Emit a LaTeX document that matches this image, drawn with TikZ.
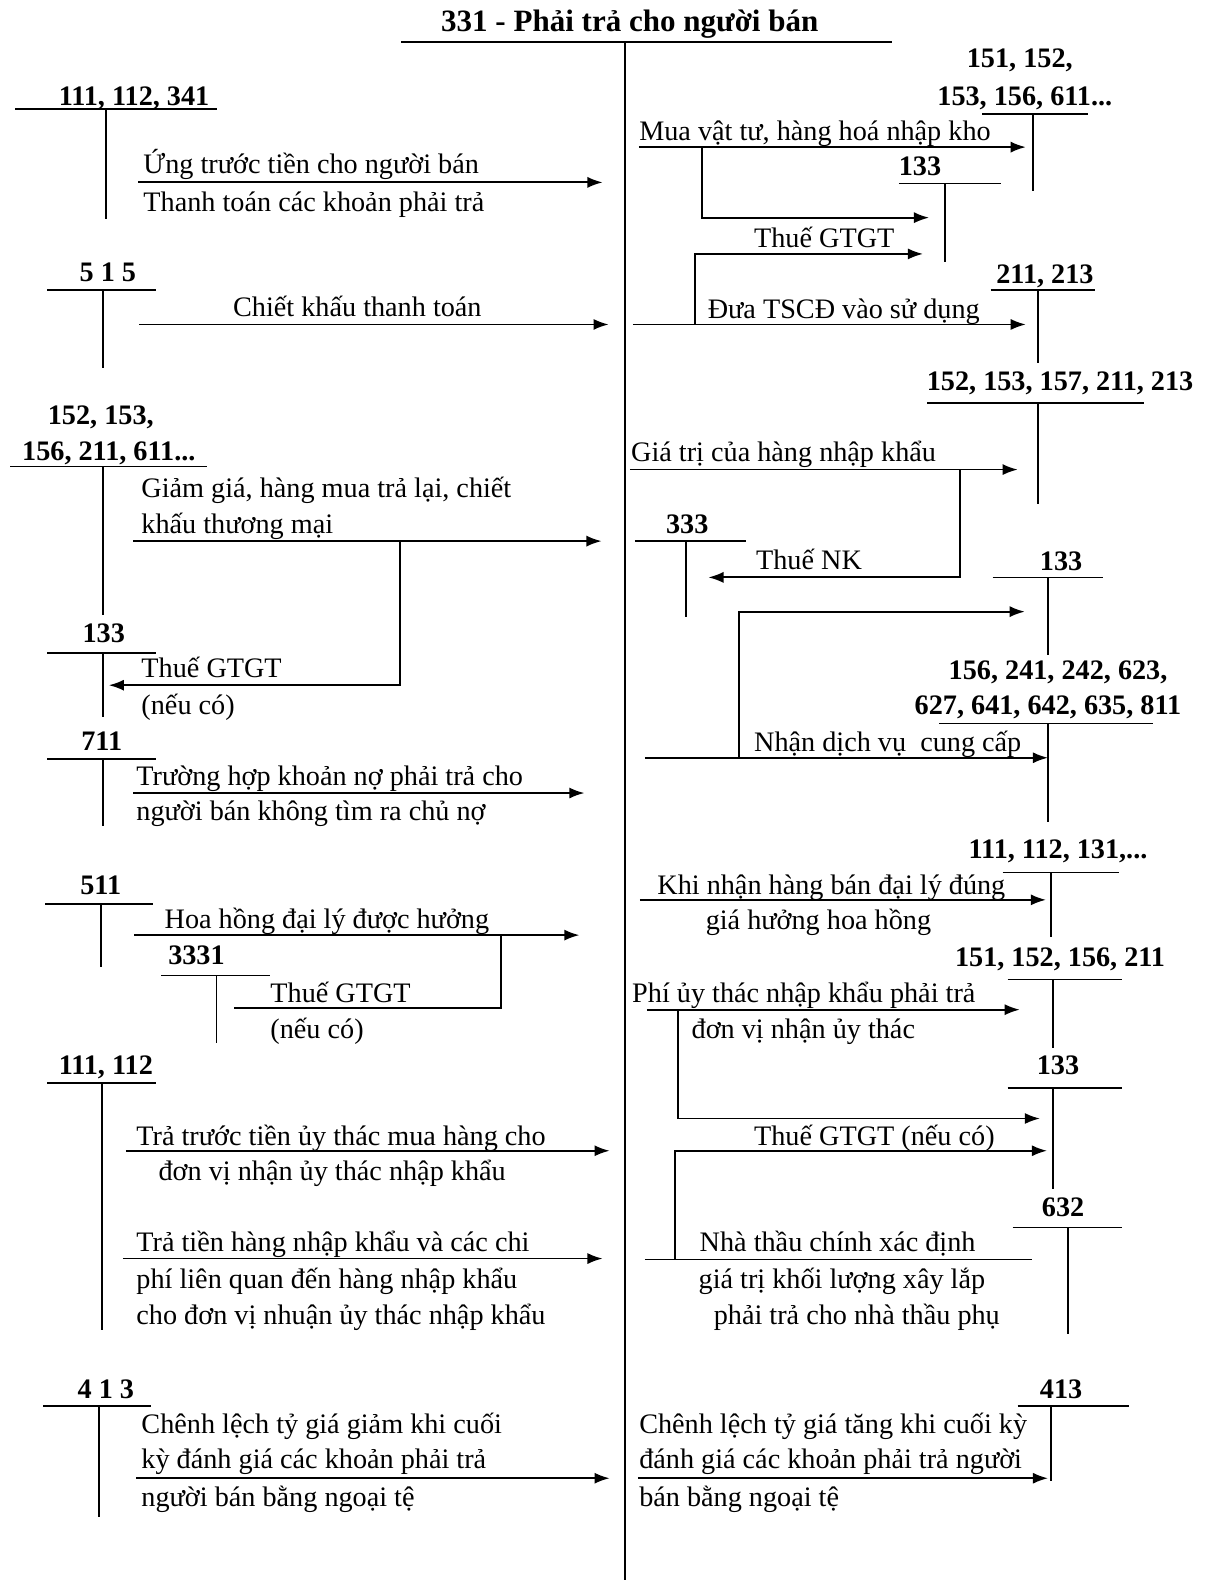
\documentclass[tikz,border=0pt]{standalone}
\usepackage{fontspec}
\setmainfont{Liberation Serif}
\usetikzlibrary{arrows.meta}

\begin{document}
\begin{tikzpicture}[x=0.5pt,y=-0.5pt,
  acct/.style={font=\fontsize{14}{16}\selectfont\bfseries, inner sep=0pt, text height=9.4pt, text depth=0pt},
  note/.style={font=\fontsize{14}{16}\selectfont, inner sep=0pt, text height=6.4pt, text depth=0pt, anchor=west, yshift=-1.5pt},
  flow/.style={-{Latex[length=7.5pt,width=5.5pt]}, line width=0.9pt},
  bare/.style={line width=0.9pt},
  tline/.style={line width=0.8pt}]
\useasboundingbox (0,0) rectangle (1204,1568);

% account 331
\node[acct, font=\fontsize{15.4}{18}\selectfont\bfseries] (title) at (625,22) {331 - Phải trả cho người bán};
\draw[line width=1.1pt] (398,42) -- (885,42);
\draw[line width=1.1pt] (620,42) -- (620,1568);

% left side accounts
\node[acct] (l1) at (133,95) {111, 112, 341};
\draw[tline] (15,108) -- (215,108); \draw[tline] (105,108) -- (105,217);
\node[acct] (l2) at (107,270) {5 1 5};
\draw[tline] (47,288) -- (155,288); \draw[tline] (102,288) -- (102,365);
\node[acct] (l3a) at (100,412) {152, 153,};
\node[acct] (l3b) at (108,448) {156, 211, 611...};
\draw[tline] (10,463) -- (205,463); \draw[tline] (102,463) -- (102,610);
\node[acct] (l4) at (103,628) {133};
\draw[tline] (47,648) -- (155,648); \draw[tline] (102,648) -- (102,712);
\node[acct] (l5) at (101,735) {711};
\draw[tline] (47,753) -- (155,753); \draw[tline] (102,753) -- (102,820);
\node[acct] (l6) at (100,878) {511};
\draw[tline] (45,897) -- (152,897); \draw[tline] (100,897) -- (100,960);
\node[acct] (l7) at (195,948) {3331};
\draw[tline] (160,968) -- (268,968); \draw[tline] (215,968) -- (215,1035);
\node[acct] (l8) at (105,1057) {111, 112};
\draw[tline] (47,1075) -- (155,1075); \draw[tline] (101,1075) -- (101,1320);
\node[acct] (l9) at (105,1378) {4 1 3};
\draw[tline] (43,1395) -- (150,1395); \draw[tline] (98,1395) -- (98,1505);

% right side accounts
\node[acct] (r1a) at (1012,58) {151, 152,};
\node[acct] (r1b) at (1017,95) {153, 156, 611...};
\draw[tline] (975,113) -- (1080,113); \draw[tline] (1025,113) -- (1025,190);
\node[acct] (r2) at (913,165) {133};
\draw[tline] (892,182) -- (993,182); \draw[tline] (938,182) -- (938,260);
\node[acct] (r3) at (1037,272) {211, 213};
\draw[tline] (983,288) -- (1087,288); \draw[tline] (1030,288) -- (1030,360);
\node[acct] (r4) at (1052,378) {152, 153, 157, 211, 213};
\draw[tline] (920,400) -- (1135,400); \draw[tline] (1030,400) -- (1030,500);
\node[acct] (r5) at (682,520) {333};
\draw[tline] (630,537) -- (740,537); \draw[tline] (681,537) -- (681,612);
\node[acct] (r6) at (1053,557) {133};
\draw[tline] (985,573) -- (1095,573); \draw[tline] (1040,573) -- (1040,650);
\node[acct] (r7a) at (1050,665) {156, 241, 242, 623,};
\node[acct] (r7b) at (1040,700) {627, 641, 642, 635, 811};
\draw[tline] (932,718) -- (1144,718); \draw[tline] (1040,718) -- (1040,816);
\node[acct] (r8) at (1050,843) {111, 112, 131,...};
\draw[tline] (995,866) -- (1110,866); \draw[tline] (1043,866) -- (1043,930);
\node[acct] (r9) at (1052,950) {151, 152, 156, 211};
\draw[tline] (1000,972) -- (1113,972); \draw[tline] (1045,972) -- (1045,1040);
\node[acct] (r10) at (1050,1057) {133};
\draw[tline] (1000,1080) -- (1113,1080); \draw[tline] (1045,1080) -- (1045,1180);
\node[acct] (r11) at (1055,1198) {632};
\draw[tline] (1005,1218) -- (1113,1218); \draw[tline] (1060,1218) -- (1060,1324);
\node[acct] (r12) at (1053,1378) {413};
\draw[tline] (1010,1395) -- (1120,1395); \draw[tline] (1043,1395) -- (1043,1470);

% arrow end points, left
\coordinate (a1s) at (137,181);  \coordinate (a1e) at (598,181);
\coordinate (a2s) at (138,322);  \coordinate (a2e) at (604,322);
\coordinate (a3s) at (132,537);  \coordinate (a3e) at (597,537);
\coordinate (a3k) at (397,537);  \coordinate (a3t) at (108,680);
\coordinate (a4s) at (132,787);  \coordinate (a4e) at (580,787);
\coordinate (a5s) at (133,928);  \coordinate (a5e) at (575,928);
\coordinate (a5k) at (497,928);  \coordinate (a5t) at (232,1000);
\coordinate (a6s) at (125,1142); \coordinate (a6e) at (605,1142);
\coordinate (a7s) at (122,1249); \coordinate (a7e) at (598,1249);
\coordinate (a8s) at (135,1467); \coordinate (a8e) at (605,1467);
% arrow end points, right
\coordinate (b1s) at (634,146);  \coordinate (b1e) at (1018,146);
\coordinate (b1k) at (697,146);  \coordinate (b1t) at (922,216);
\coordinate (b2s) at (628,322);  \coordinate (b2e) at (1018,322);
\coordinate (b2k) at (690,322);  \coordinate (b2t) at (916,252);
\coordinate (b3s) at (625,466);  \coordinate (b3e) at (1010,466);
\coordinate (b3k) at (953,466);  \coordinate (b3t) at (703,573);
\coordinate (b4s) at (640,752);  \coordinate (b4e) at (1040,752);
\coordinate (b4k) at (733,752);  \coordinate (b4t) at (1017,607);
\coordinate (b5s) at (635,893);  \coordinate (b5e) at (1038,893);
\coordinate (b6s) at (642,1002); \coordinate (b6e) at (1012,1002);
\coordinate (b6k) at (673,1002); \coordinate (b6t) at (1032,1110);
\coordinate (b7s) at (640,1250); \coordinate (b7e) at (1024,1250);
\coordinate (b7k) at (670,1250); \coordinate (b7t) at (1039,1142);
\coordinate (b8s) at (633,1467); \coordinate (b8e) at (1040,1467);

\draw[flow] (a1s) -- (a1e);
\draw[flow] (a2s) -- (a2e);
\draw[flow] (a3s) -- (a3e);
\draw[flow] (a3k) |- (a3t);
\draw[flow] (a4s) -- (a4e);
\draw[flow] (a5s) -- (a5e);
\draw[bare] (a5k) |- (a5t);
\draw[flow] (a6s) -- (a6e);
\draw[flow] (a7s) -- (a7e);
\draw[flow] (a8s) -- (a8e);
\draw[flow] (b1s) -- (b1e);
\draw[flow] (b1k) |- (b1t);
\draw[flow] (b2s) -- (b2e);
\draw[flow] (b2k) |- (b2t);
\draw[flow] (b3s) -- (b3e);
\draw[flow] (b3k) |- (b3t);
\draw[flow] (b4s) -- (b4e);
\draw[flow] (b4k) |- (b4t);
\draw[flow] (b5s) -- (b5e);
\draw[flow] (b6s) -- (b6e);
\draw[flow] (b6k) |- (b6t);
\draw[bare] (b7s) -- (b7e);
\draw[flow] (b7k) |- (b7t);
\draw[flow] (b8s) -- (b8e);

% texts, left
\node[note] (t1a) at (142,163) {Ứng trước tiền cho người bán};
\node[note] (t1b) at (142,200) {Thanh toán các khoản phải trả};
\node[note] (t2) at (231,305) {Chiết khấu thanh toán};
\node[note] (t3a) at (140,484) {Giảm giá, hàng mua trả lại, chiết};
\node[note] (t3b) at (140,520) {khấu thương mại};
\node[note] (t3c) at (140,663) {Thuế GTGT};
\node[note] (t3d) at (140,700) {(nếu có)};
\node[note] (t4a) at (135,770) {Trường hợp khoản nợ phải trả cho};
\node[note] (t4b) at (135,805) {người bán không tìm ra chủ nợ};
\node[note] (t5a) at (163,912) {Hoa hồng đại lý được hưởng};
\node[note] (t5b) at (268,985) {Thuế GTGT};
\node[note] (t5c) at (268,1021) {(nếu có)};
\node[note] (t6a) at (135,1127) {Trả trước tiền ủy thác mua hàng cho};
\node[note] (t6b) at (157,1162) {đơn vị nhận ủy thác nhập khẩu};
\node[note] (t7a) at (135,1233) {Trả tiền hàng nhập khẩu và các chi};
\node[note] (t7b) at (135,1269) {phí liên quan đến hàng nhập khẩu};
\node[note] (t7c) at (135,1305) {cho đơn vị nhuận ủy thác nhập khẩu};
\node[note] (t8a) at (140,1413) {Chênh lệch tỷ giá giảm khi cuối};
\node[note] (t8b) at (140,1448) {kỳ đánh giá các khoản phải trả};
\node[note] (t8c) at (140,1486) {người bán bằng ngoại tệ};

% texts, right
\node[note] (s1) at (634,130) {Mua vật tư, hàng hoá nhập kho};
\node[note] (s2) at (748,236) {Thuế GTGT};
\node[note] (s3) at (702,307) {Đưa TSCĐ vào sử dụng};
\node[note] (s4) at (626,449) {Giá trị của hàng nhập khẩu};
\node[note] (s5) at (750,556) {Thuế NK};
\node[note] (s6) at (748,736) {Nhận dịch vụ\ \ cung cấp};
\node[note] (s7a) at (652,878) {Khi nhận hàng bán đại lý đúng};
\node[note] (s7b) at (700,913) {giá hưởng hoa hồng};
\node[note] (s8a) at (627,985) {Phí ủy thác nhập khẩu phải trả};
\node[note] (s8b) at (686,1021) {đơn vị nhận ủy thác};
\node[note] (s9) at (748,1127) {Thuế GTGT (nếu có)};
\node[note] (s10a) at (694,1233) {Nhà thầu chính xác định};
\node[note] (s10b) at (693,1269) {giá trị khối lượng xây lắp};
\node[note] (s10c) at (708,1305) {phải trả cho nhà thầu phụ};
\node[note] (s11a) at (634,1413) {Chênh lệch tỷ giá tăng khi cuối kỳ};
\node[note] (s11b) at (634,1448) {đánh giá các khoản phải trả người};
\node[note] (s11c) at (634,1486) {bán bằng ngoại tệ};
\end{tikzpicture}
\end{document}
